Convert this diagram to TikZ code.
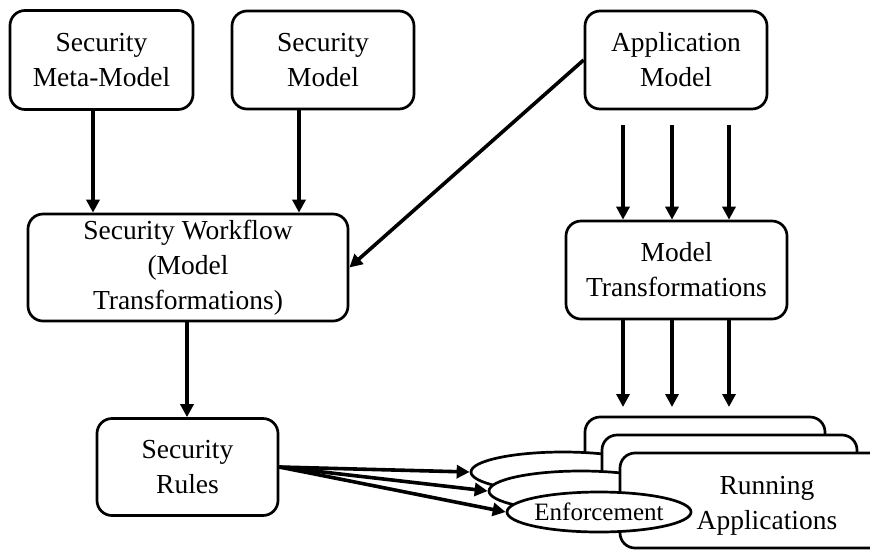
\documentclass[tikz,border=0pt]{standalone}
\usepackage{fontspec}
\setmainfont{Liberation Serif}
\usetikzlibrary{arrows.meta,shapes.geometric}
\tikzset{
  box/.style={draw, line width=2.7pt, rounded corners=15pt, fill=white, align=center,
    inner sep=0pt, font=\fontsize{27.5}{35}\selectfont},
  enf/.style={draw, ellipse, line width=2.7pt, fill=white, inner sep=0pt,
    minimum width=184pt, minimum height=40pt, font=\fontsize{25}{28}\selectfont},
  label/.style={align=center, inner sep=0pt, font=\fontsize{27.5}{35}\selectfont},
  flow/.style={line width=3.6pt, -{Triangle[length=13pt,width=13pt]}},
}
\begin{document}
\begin{tikzpicture}[x=1pt,y=-1pt]
\useasboundingbox (0,0) rectangle (870,550);
\clip (0,0) rectangle (870,550);

% top row
\node[box, minimum width=183pt, minimum height=99pt] (meta) at (101.5,60) {Security\\Meta-Model};
\node[box, minimum width=182pt, minimum height=98pt] (smodel) at (323,60) {Security\\Model};
\node[box, minimum width=182pt, minimum height=98pt] (app) at (676,60) {Application\\Model};

% middle row
\node[box, minimum width=320pt, minimum height=107pt] (wf) at (188,267.5) {Security Workflow\\(Model\\Transformations)};
\node[box, minimum width=221pt, minimum height=98pt] (mt) at (676.5,270) {Model\\Transformations};

% bottom left
\node[box, minimum width=181pt, minimum height=97pt] (rules) at (187.5,467) {Security\\Rules};

% stacked running applications with enforcement ellipses
\node[box, minimum width=240pt, minimum height=95pt] (ra1) at (705,464.5) {};
\node[enf] (e1) at (563,472) {};
\node[box, minimum width=255pt, minimum height=95pt] (ra2) at (729.5,482.5) {};
\node[enf] (e2) at (581,491) {};
\node[box, minimum width=294pt, minimum height=95pt] (ra3) at (767,500.5) {};
\node[label] (ratext) at (767,506) {Running\\Applications};
\node[enf] (e3) at (599,512) {Enforcement};

% connectors
\draw[flow] (meta.south -| 93,0) -- (93,0 |- wf.north);
\draw[flow] (smodel.south -| 299,0) -- (299,0 |- wf.north);
\draw[flow] (app.west) -- (wf.east);
\draw[flow] (wf.south -| 187,0) -- (187,0 |- rules.north);

\foreach \i/\xx in {a/623,b/672,c/729}{
  \coordinate (top\i) at (\xx,125);
  \coordinate (low\i) at (\xx,407);
  \draw[flow] (top\i) -- (top\i |- mt.north);
  \draw[flow] (top\i |- mt.south) -- (low\i);
}

\draw[flow] (rules.east) -- (e1.west);
\draw[flow] (rules.east) -- (e2.west);
\draw[flow] (rules.east) -- (e3.west);
\end{tikzpicture}
\end{document}
